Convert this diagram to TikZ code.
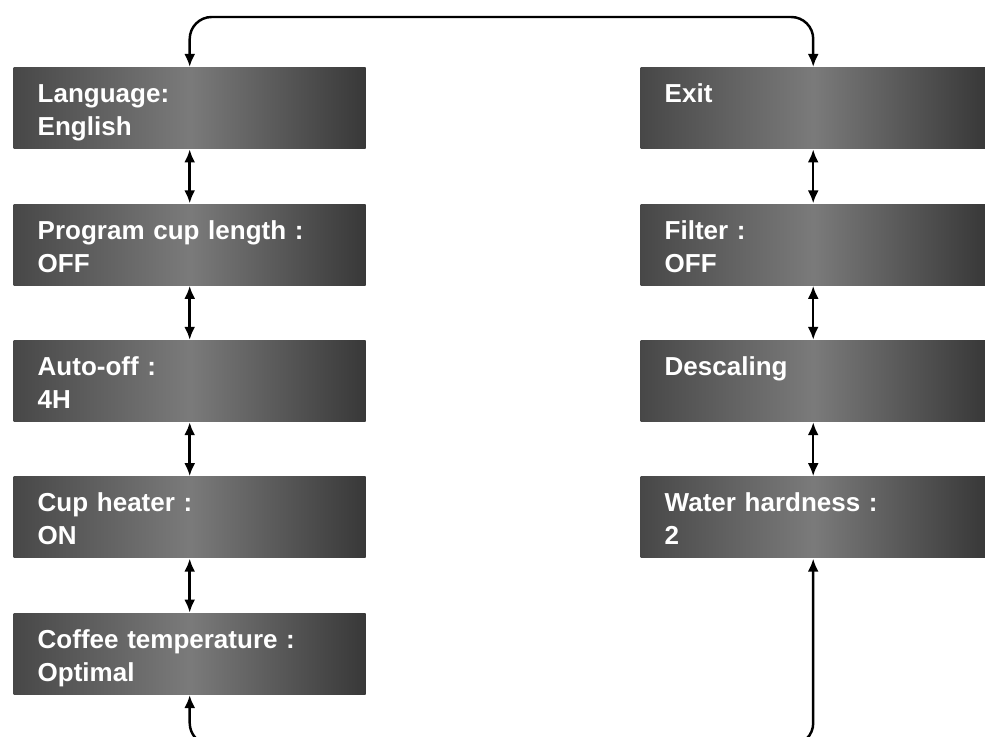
\documentclass[tikz,border=0pt]{standalone}
\usepackage{fontspec}
\setmainfont{Liberation Sans}
\usetikzlibrary{arrows.meta, positioning}

\tikzset{
  menubox/.style={rectangle, anchor=north west, inner xsep=0.24cm, inner ysep=0pt,
    left color=black!72, right color=black!78, middle color=black!52,
    text=white, font=\bfseries\fontsize{7.4}{9.4}\selectfont, align=left,
    text width=3.04cm, text height=0.35cm, text depth=0.46cm},
  rightbox/.style={menubox, text width=2.97cm},
  link/.style={line width=0.7pt, {Latex[length=1.3mm,width=1.1mm]}-{Latex[length=1.3mm,width=1.1mm]}},
  loop/.style={link, rounded corners=0.22cm}
}

\begin{document}
\begin{tikzpicture}[x=1cm,y=1cm]
    \useasboundingbox (0,0) rectangle (9.85,-7.37);
    \clip (0,0) rectangle (9.85,-7.37);
    % left column
    \node[menubox] (lang) at (0.13,-0.67) {Language:\\English};
    \node[menubox, below=0.54cm of lang.south west, anchor=north west] (cuplen) {Program cup length :\\OFF};
    \node[menubox, below=0.54cm of cuplen.south west, anchor=north west] (autooff) {Auto-off :\\4H};
    \node[menubox, below=0.54cm of autooff.south west, anchor=north west] (heater) {Cup heater :\\ON};
    \node[menubox, below=0.54cm of heater.south west, anchor=north west] (temp) {Coffee temperature :\\Optimal};
    % right column
    \node[rightbox] (exit) at (6.40,-0.67) {Exit};
    \node[rightbox, below=0.54cm of exit.south west, anchor=north west] (filter) {Filter :\\OFF};
    \node[rightbox, below=0.54cm of filter.south west, anchor=north west] (descale) {Descaling};
    \node[rightbox, below=0.54cm of descale.south west, anchor=north west] (hardness) {Water hardness :\\2};
    % links
    \draw[link] (lang) -- (cuplen);
    \draw[link] (cuplen) -- (autooff);
    \draw[link] (autooff) -- (heater);
    \draw[link] (heater) -- (temp);
    \draw[link] (exit) -- (filter);
    \draw[link] (filter) -- (descale);
    \draw[link] (descale) -- (hardness);
    \draw[loop] (lang.north) -- ++(0,0.5) -| (exit.north);
    \draw[loop] (temp.south) -- ++(0,-0.50) -| (hardness.south);
\end{tikzpicture}
\end{document}
